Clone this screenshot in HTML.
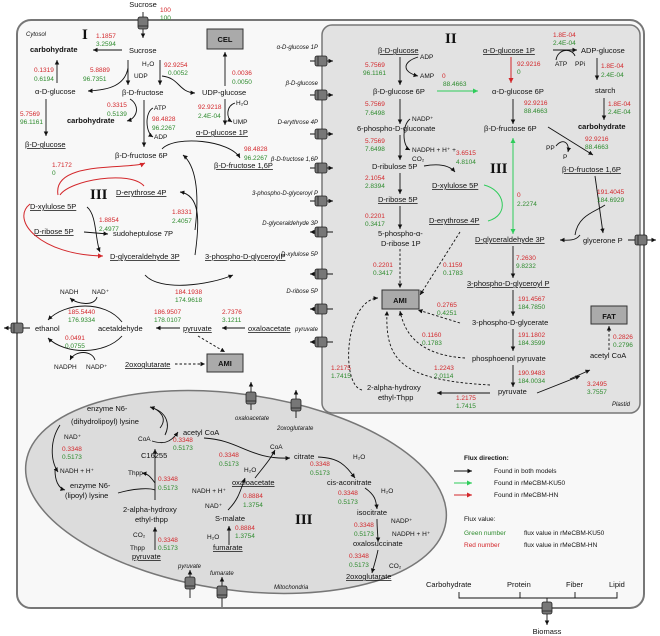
<!DOCTYPE html>
<html><head><meta charset="utf-8"><style>
html,body{margin:0;padding:0;background:#fff}
svg{display:block;font-family:"Liberation Sans",sans-serif}
.t{font-size:7.5px;fill:#111}
.s{font-size:6.5px;fill:#111}
.r{font-size:6.5px;fill:#d3272b}
.g{font-size:6.5px;fill:#2e8b2e}
.i{font-size:6px;font-style:italic;fill:#111}
.b{font-size:7.5px;font-weight:bold;fill:#111}
.R{font-family:"Liberation Serif",serif;font-weight:bold;font-size:15px;fill:#111}
.u{text-decoration:underline}
.k{stroke:#111;stroke-width:0.9;fill:none}
.d{stroke:#111;stroke-width:0.9;fill:none;stroke-dasharray:2.5,2}
.gr{stroke:#2ecc5a;stroke-width:1;fill:none}
.rd{stroke:#d3272b;stroke-width:1;fill:none}
</style></head><body>
<svg width="660" height="636" viewBox="0 0 660 636" xmlns="http://www.w3.org/2000/svg">
<defs>
<marker id="a" markerWidth="6" markerHeight="6" refX="5" refY="3" orient="auto"><path d="M0,0.5 L5,3 L0,5.5z" fill="#111"/></marker>
<marker id="ag" markerWidth="6" markerHeight="6" refX="5" refY="3" orient="auto"><path d="M0,0.5 L5,3 L0,5.5z" fill="#2ecc5a"/></marker>
<marker id="ar" markerWidth="6" markerHeight="6" refX="5" refY="3" orient="auto"><path d="M0,0.5 L5,3 L0,5.5z" fill="#d3272b"/></marker>
<g id="cy"><rect x="-5" y="-6" width="10" height="12" rx="2" fill="#777" stroke="#222" stroke-width="0.8"/><line x1="-5" y1="3" x2="5" y2="3" stroke="#222" stroke-width="0.8"/></g>
<g id="ch"><rect x="-6" y="-5" width="12" height="10" rx="2" fill="#777" stroke="#222" stroke-width="0.8"/><line x1="-3" y1="-5" x2="-3" y2="5" stroke="#222" stroke-width="0.8"/></g>
</defs>

<rect x="17" y="20" width="627" height="588" rx="14" fill="#f8f8f8" stroke="#777" stroke-width="2"/>
<rect x="322" y="25" width="318" height="388" rx="10" fill="#e2e2e2" stroke="#777" stroke-width="1.5"/>
<ellipse cx="236" cy="492" rx="212" ry="98" transform="rotate(8 236 492)" fill="#dcdcdc" stroke="#777" stroke-width="1.5"/>

<text x="143" y="7" class="t" text-anchor="middle">Sucrose</text>
<text x="160" y="12" class="r">100</text><text x="160" y="20" class="g">100</text>
<line x1="143" y1="12" x2="143" y2="38" class="k" marker-end="url(#a)"/>
<use href="#cy" x="143" y="23"/>

<text x="26" y="36" class="i">Cytosol</text>
<text x="82" y="39" class="R">I</text>
<text x="96" y="38" class="r">1.1857</text><text x="96" y="46" class="g">3.2594</text>
<text x="30" y="52" class="b">carbohydrate</text>
<line x1="122" y1="50" x2="93" y2="50" class="k" marker-end="url(#a)"/>
<text x="129" y="53" class="t">Sucrose</text>
<rect x="207" y="29" width="36" height="20" fill="#aaa" stroke="#333" stroke-width="1"/>
<text x="225" y="42" class="b" text-anchor="middle">CEL</text>
<text x="34" y="72" class="r">0.1319</text><text x="34" y="81" class="g">0.6194</text>
<line x1="57" y1="83" x2="57" y2="60" class="k" marker-end="url(#a)"/>
<text x="90" y="72" class="r">5.8889</text><text x="83" y="81" class="g">96.7351</text>
<text x="142" y="66" class="s">H₂O</text><text x="134" y="78" class="s">UDP</text>
<text x="164" y="67" class="r">92.9254</text><text x="168" y="75" class="g">0.0052</text>
<line x1="128" y1="60" x2="128" y2="85" class="k" marker-end="url(#a)"/>
<line x1="160" y1="60" x2="160" y2="85" class="k" marker-end="url(#a)"/>
<path d="M128,68 C125,85 110,90 88,91" class="k" marker-end="url(#a)"/>
<path d="M162,76 C180,78 178,92 195,93" class="k" marker-end="url(#a)"/>
<text x="35" y="94" class="t">α-D-glucose</text>
<text x="122" y="95" class="t">β-D-fructose</text>
<text x="202" y="95" class="t">UDP-glucose</text>
<text x="232" y="75" class="r">0.0036</text><text x="232" y="84" class="g">0.0050</text>
<line x1="225" y1="86" x2="225" y2="52" class="k" marker-end="url(#a)"/>
<text x="107" y="107" class="r">0.3315</text><text x="107" y="116" class="g">0.5139</text>
<path d="M130,99 C140,105 138,118 127,121" class="k" marker-end="url(#a)"/>
<text x="67" y="123" class="b">carbohydrate</text>
<text x="154" y="110" class="s">ATP</text><text x="152" y="121" class="r">98.4828</text><text x="152" y="130" class="g">96.2267</text><text x="154" y="139" class="s">ADP</text>
<line x1="144" y1="100" x2="144" y2="147" class="k" marker-end="url(#a)"/>
<path d="M153,108 C145,112 145,132 153,137" class="k" marker-end="url(#a)"/>
<text x="198" y="109" class="r">92.9218</text><text x="198" y="118" class="g">2.4E-04</text>
<text x="236" y="105" class="s">H₂O</text><text x="233" y="124" class="s">UMP</text>
<line x1="225" y1="99" x2="225" y2="125" class="k" marker-end="url(#a)"/>
<path d="M235,103 C226,106 226,118 232,122" class="k" marker-end="url(#a)"/>
<text x="196" y="135" class="t u">α-D-glucose 1P</text>
<text x="20" y="116" class="r">5.7569</text><text x="20" y="124" class="g">96.1161</text>
<line x1="46" y1="99" x2="46" y2="136" class="k" marker-end="url(#a)"/>
<text x="25" y="147" class="t u">β-D-glucose</text>
<text x="115" y="158" class="t">β-D-fructose 6P</text>
<path d="M162,149 C175,135 230,140 240,158" class="k" marker-end="url(#a)"/>
<text x="244" y="151" class="r">98.4828</text><text x="244" y="160" class="g">96.2267</text>
<text x="214" y="168" class="t u">β-D-fructose 1,6P</text>
<text x="52" y="167" class="r">1.7172</text><text x="52" y="175" class="g">0</text>
<path d="M144,186 C130,170 70,180 60,195" class="rd"/>
<path d="M58,195 C52,160 130,170 145,163" class="rd" marker-end="url(#ar)"/>
<text x="90" y="199" class="R">III</text>
<text x="116" y="195" class="t u">D-erythrose 4P</text>
<path d="M195,255 C200,220 200,195 180,192" class="k" marker-end="url(#a)"/>
<path d="M195,230 C200,190 195,165 183,155" class="k" marker-end="url(#a)"/>
<text x="172" y="214" class="r">1.8331</text><text x="172" y="223" class="g">2.4057</text>
<text x="30" y="209" class="t u">D-xylulose 5P</text>
<path d="M87,207 C97,215 95,240 100,252" class="k" marker-end="url(#a)"/>
<text x="99" y="222" class="r">1.8854</text><text x="99" y="231" class="g">2.4977</text>
<text x="34" y="234" class="t u">D-ribose 5P</text>
<line x1="84" y1="232" x2="108" y2="234" class="k" marker-end="url(#a)"/>
<text x="113" y="236" class="t">sudoheptulose 7P</text>
<path d="M30,204 C10,220 40,255 103,256" class="rd" marker-end="url(#ar)"/>
<text x="110" y="259" class="t u">D-glyceraldehyde 3P</text>
<text x="205" y="259" class="t u">3-phospho-D-glyceroylP</text>
<path d="M145,275 C160,292 210,285 233,275" class="k" marker-end="url(#a)"/>
<text x="175" y="294" class="r">184.1938</text><text x="175" y="302" class="g">174.9618</text>
<text x="60" y="294" class="s">NADH</text><text x="92" y="294" class="s">NAD⁺</text>
<path d="M97,297 C95,306 78,305 70,298" class="k" marker-end="url(#a)"/>
<text x="68" y="314" class="r">185.5440</text><text x="68" y="322" class="g">176.9334</text>
<path d="M122,322 C105,300 65,302 48,320" class="k" marker-end="url(#a)"/>
<text x="35" y="331" class="t">ethanol</text>
<text x="98" y="331" class="t">acetaldehyde</text>
<line x1="180" y1="328" x2="156" y2="328" class="k" marker-end="url(#a)"/>
<text x="154" y="314" class="r">186.9507</text><text x="154" y="322" class="g">178.0107</text>
<text x="183" y="331" class="t u">pyruvate</text>
<line x1="245" y1="328" x2="222" y2="328" class="k" marker-end="url(#a)"/>
<text x="222" y="314" class="r">2.7376</text><text x="222" y="322" class="g">3.1211</text>
<text x="248" y="331" class="t u">oxaloacetate</text>
<text x="65" y="340" class="r">0.0491</text><text x="65" y="348" class="g">0.0755</text>
<path d="M122,336 C105,355 65,355 48,338" class="k" marker-end="url(#a)"/>
<path d="M95,360 C92,350 75,350 70,360" class="k" marker-end="url(#a)"/>
<text x="54" y="369" class="s">NADPH</text><text x="86" y="369" class="s">NADP⁺</text>
<text x="125" y="367" class="t u">2oxoglutarate</text>
<line x1="175" y1="364" x2="205" y2="364" class="d" marker-end="url(#a)"/>
<line x1="198" y1="336" x2="225" y2="352" class="d" marker-end="url(#a)"/>
<rect x="207" y="354" width="36" height="18" fill="#aaa" stroke="#333" stroke-width="1"/>
<text x="225" y="366" class="b" text-anchor="middle">AMI</text>
<line x1="30" y1="328" x2="4" y2="328" class="k" marker-end="url(#a)"/>
<use href="#ch" x="17" y="328"/>

<g class="i" text-anchor="end">
<text x="318" y="49">α-D-glucose 1P</text><text x="318" y="85">β-D-glucose</text>
<text x="318" y="124">D-erythrose 4P</text><text x="318" y="161">β-D-fructose 1,6P</text>
<text x="318" y="195">3-phospho-D-glyceroyl P</text><text x="318" y="225">D-glyceraldehyde 3P</text>
<text x="318" y="256">D-xylulose 5P</text><text x="318" y="293">D-ribose 5P</text>
<text x="318" y="331">pyruvate</text></g>
<g class="k">
<line x1="310" y1="61" x2="333" y2="61" marker-end="url(#a)"/><line x1="310" y1="95" x2="333" y2="95" marker-end="url(#a)"/>
<line x1="310" y1="134" x2="333" y2="134" marker-end="url(#a)"/><line x1="310" y1="168" x2="333" y2="168" marker-end="url(#a)"/>
<line x1="310" y1="201" x2="333" y2="201" marker-end="url(#a)"/><line x1="333" y1="232" x2="310" y2="232" marker-end="url(#a)"/>
<line x1="333" y1="274" x2="310" y2="274" marker-end="url(#a)"/><line x1="333" y1="309" x2="310" y2="309" marker-end="url(#a)"/>
<line x1="333" y1="342" x2="310" y2="342" marker-end="url(#a)"/></g>
<use href="#ch" x="321" y="61"/><use href="#ch" x="321" y="95"/><use href="#ch" x="321" y="134"/><use href="#ch" x="321" y="168"/><use href="#ch" x="321" y="201"/><use href="#ch" x="321" y="232"/><use href="#ch" x="321" y="274"/><use href="#ch" x="321" y="309"/><use href="#ch" x="321" y="342"/>

<text x="445" y="43" class="R">II</text>
<text x="378" y="53" class="t u">β-D-glucose</text>
<text x="420" y="59" class="s">ADP</text><text x="420" y="78" class="s">AMP</text>
<text x="365" y="67" class="r">5.7569</text><text x="363" y="75" class="g">96.1161</text>
<line x1="400" y1="57" x2="400" y2="85" class="k" marker-end="url(#a)"/>
<path d="M418,57 C402,62 402,72 418,76" class="k" marker-end="url(#a)"/>
<text x="442" y="78" class="r">0</text><text x="443" y="86" class="g">88.4663</text>
<line x1="437" y1="91" x2="478" y2="91" class="gr" marker-end="url(#ag)"/>
<text x="373" y="94" class="t">β-D-glucose 6P</text>
<text x="483" y="53" class="t u">α-D-glucose 1P</text>
<line x1="511" y1="57" x2="511" y2="83" class="rd" marker-end="url(#ar)"/>
<text x="517" y="66" class="r">92.9216</text><text x="517" y="74" class="g">0</text>
<text x="492" y="94" class="t">α-D-glucose 6P</text>
<text x="553" y="37" class="r">1.8E-04</text><text x="553" y="45" class="g">2.4E-04</text>
<line x1="553" y1="50" x2="577" y2="50" class="k" marker-end="url(#a)"/>
<path d="M556,60 C558,48 572,48 575,56" class="k"/>
<text x="581" y="53" class="t">ADP-glucose</text>
<text x="555" y="66" class="s">ATP</text><text x="575" y="66" class="s">PPi</text>
<line x1="597" y1="58" x2="597" y2="80" class="k" marker-end="url(#a)"/>
<text x="601" y="68" class="r">1.8E-04</text><text x="601" y="77" class="g">2.4E-04</text>
<text x="595" y="93" class="t">starch</text>
<line x1="604" y1="98" x2="604" y2="120" class="k" marker-end="url(#a)"/>
<text x="608" y="106" class="r">1.8E-04</text><text x="608" y="114" class="g">2.4E-04</text>
<text x="578" y="129" class="b">carbohydrate</text>
<text x="365" y="106" class="r">5.7569</text><text x="365" y="115" class="g">7.6498</text>
<line x1="400" y1="99" x2="400" y2="124" class="k" marker-end="url(#a)"/>
<text x="524" y="105" class="r">92.9216</text><text x="524" y="113" class="g">88.4663</text>
<line x1="513" y1="99" x2="513" y2="124" class="k" marker-end="url(#a)"/>
<text x="357" y="131" class="t">6-phospho-D-gluconate</text>
<text x="412" y="121" class="s">NADP⁺</text>
<text x="484" y="131" class="t">β-D-fructose 6P</text>
<line x1="548" y1="127" x2="593" y2="155" class="k" marker-end="url(#a)"/>
<text x="585" y="141" class="r">92.9216</text><text x="585" y="149" class="g">88.4663</text>
<text x="546" y="150" class="s">PP</text><text x="563" y="159" class="s">P</text>
<path d="M556,146 C562,138 570,142 568,152" class="k" marker-end="url(#a)"/>
<text x="365" y="143" class="r">5.7569</text><text x="365" y="151" class="g">7.6498</text>
<line x1="400" y1="135" x2="400" y2="160" class="k" marker-end="url(#a)"/>
<path d="M410,119 C402,125 402,146 410,150" class="k" marker-end="url(#a)"/>
<text x="412" y="152" class="s">NADPH + H⁺ +</text><text x="412" y="161" class="s">CO₂</text>
<text x="456" y="155" class="r">3.6515</text><text x="456" y="164" class="g">4.8104</text>
<text x="372" y="169" class="t">D-ribulose 5P</text>
<path d="M424,166 C440,163 450,166 455,172" class="k" marker-end="url(#a)"/>
<text x="490" y="173" class="R">III</text>
<text x="562" y="172" class="t u">β-D-fructose 1,6P</text>
<text x="365" y="180" class="r">2.1054</text><text x="365" y="188" class="g">2.8394</text>
<line x1="400" y1="173" x2="400" y2="194" class="k" marker-end="url(#a)"/>
<text x="432" y="188" class="t u">D-xylulose 5P</text>
<line x1="513" y1="232" x2="513" y2="138" class="gr" marker-end="url(#ag)"/>
<line x1="513" y1="200" x2="513" y2="234" class="gr" marker-end="url(#ag)"/>
<path d="M484,185 C505,190 510,215 488,221" class="gr"/>
<text x="517" y="197" class="r">0</text><text x="517" y="206" class="g">2.2274</text>
<text x="378" y="202" class="t u">D-ribose 5P</text>
<line x1="595" y1="176" x2="603" y2="233" class="k" marker-end="url(#a)"/>
<text x="597" y="194" class="r">191.4045</text><text x="597" y="202" class="g">184.6929</text>
<path d="M575,235 C578,215 595,212 605,205" class="k"/>
<text x="365" y="218" class="r">0.2201</text><text x="365" y="226" class="g">0.3417</text>
<line x1="400" y1="206" x2="400" y2="229" class="k" marker-end="url(#a)"/>
<text x="429" y="223" class="t u">D-erythrose 4P</text>
<text x="378" y="236" class="t">5-phospho-α-</text><text x="381" y="246" class="t">D-ribose 1P</text>
<text x="475" y="242" class="t u">D-glyceraldehyde 3P</text>
<path d="M580,235 C575,242 565,240 560,240" class="k" marker-end="url(#a)"/>
<text x="583" y="243" class="t">glycerone P</text>
<line x1="628" y1="240" x2="656" y2="240" class="k" marker-end="url(#a)"/>
<use href="#ch" x="641" y="240"/>
<line x1="400" y1="249" x2="400" y2="288" class="d" marker-end="url(#a)"/>
<line x1="460" y1="232" x2="420" y2="295" class="d" marker-end="url(#a)"/>
<text x="373" y="267" class="r">0.2201</text><text x="373" y="275" class="g">0.3417</text>
<text x="443" y="267" class="r">0.1159</text><text x="443" y="275" class="g">0.1783</text>
<line x1="513" y1="246" x2="513" y2="278" class="k" marker-end="url(#a)"/>
<text x="516" y="260" class="r">7.2630</text><text x="516" y="268" class="g">9.8232</text>
<text x="467" y="286" class="t u">3-phospho-D-glyceroyl P</text>
<rect x="382" y="290" width="37" height="19" fill="#aaa" stroke="#333" stroke-width="1"/>
<text x="400" y="303" class="b" text-anchor="middle">AMI</text>
<line x1="513" y1="290" x2="513" y2="316" class="k" marker-end="url(#a)"/>
<text x="518" y="301" class="r">191.4567</text><text x="518" y="309" class="g">184.7850</text>
<text x="437" y="307" class="r">0.2765</text><text x="437" y="315" class="g">0.4251</text>
<line x1="460" y1="323" x2="418" y2="310" class="d" marker-end="url(#a)"/>
<rect x="591" y="306" width="36" height="18" fill="#aaa" stroke="#333" stroke-width="1"/>
<text x="609" y="319" class="b" text-anchor="middle">FAT</text>
<text x="472" y="325" class="t">3-phospho-D-glycerate</text>
<line x1="513" y1="329" x2="513" y2="351" class="k" marker-end="url(#a)"/>
<text x="518" y="337" class="r">191.1802</text><text x="518" y="345" class="g">184.3599</text>
<text x="422" y="337" class="r">0.1160</text><text x="422" y="345" class="g">0.1783</text>
<path d="M465,358 C420,355 405,335 400,311" class="d" marker-end="url(#a)"/>
<line x1="609" y1="350" x2="609" y2="326" class="d" marker-end="url(#a)"/>
<text x="613" y="339" class="r">0.2826</text><text x="613" y="347" class="g">0.2796</text>
<text x="472" y="361" class="t">phosphoenol pyruvate</text>
<text x="590" y="358" class="t">acetyl CoA</text>
<text x="331" y="370" class="r">1.2175</text><text x="331" y="378" class="g">1.7415</text>
<text x="434" y="370" class="r">1.2243</text><text x="434" y="378" class="g">2.0114</text>
<path d="M490,385 C400,380 385,360 387,311" class="d" marker-end="url(#a)"/>
<path d="M362,390 C340,385 345,300 378,298" class="d" marker-end="url(#a)"/>
<line x1="513" y1="365" x2="513" y2="387" class="k" marker-end="url(#a)"/>
<text x="518" y="375" class="r">190.9483</text><text x="518" y="383" class="g">184.0034</text>
<line x1="537" y1="393" x2="580" y2="376" class="k" marker-end="url(#a)"/>
<line x1="570" y1="379" x2="590" y2="370" class="k" marker-end="url(#a)"/>
<text x="587" y="386" class="r">3.2495</text><text x="587" y="394" class="g">3.7557</text>
<text x="367" y="390" class="t">2-alpha-hydroxy</text><text x="378" y="400" class="t">ethyl-Thpp</text>
<text x="498" y="394" class="t">pyruvate</text>
<line x1="490" y1="393" x2="437" y2="393" class="k" marker-end="url(#a)"/>
<text x="456" y="400" class="r">1.2175</text><text x="456" y="408" class="g">1.7415</text>
<text x="612" y="406" class="i">Plastid</text>

<line x1="251" y1="410" x2="251" y2="382" class="k" marker-end="url(#a)"/>
<use href="#cy" x="251" y="398"/>
<line x1="296" y1="418" x2="296" y2="390" class="k" marker-end="url(#a)"/>
<use href="#cy" x="296" y="405"/>
<text x="235" y="420" class="i">oxaloacetate</text><text x="277" y="430" class="i">2oxoglutarate</text>
<text x="87" y="411" class="t">enzyme N6-</text><text x="71" y="424" class="t">(dihydrolipoyl) lysine</text>
<path d="M150,407 C168,412 170,425 165,435" class="k"/>
<path d="M160,428 C168,418 160,410 150,407" class="k" marker-end="url(#a)"/>
<text x="183" y="435" class="t">acetyl CoA</text>
<text x="138" y="441" class="s">CoA</text>
<path d="M152,441 C162,444 170,444 178,432" class="k" marker-end="url(#a)"/>
<text x="173" y="442" class="r">0.3348</text><text x="173" y="450" class="g">0.5173</text>
<text x="64" y="439" class="s">NAD⁺</text>
<text x="62" y="451" class="r">0.3348</text><text x="62" y="459" class="g">0.5173</text>
<path d="M60,425 C50,440 50,460 58,472" class="k" marker-end="url(#a)"/>
<path d="M55,470 C55,480 58,488 65,490" class="k" marker-end="url(#a)"/>
<text x="141" y="458" class="t">C16255</text>
<path d="M204,438 C240,440 250,460 290,458" class="k" marker-end="url(#a)"/>
<text x="219" y="457" class="r">0.3348</text><text x="219" y="466" class="g">0.5173</text>
<text x="270" y="449" class="s">CoA</text>
<path d="M255,478 C265,465 270,460 275,450" class="k" marker-end="url(#a)"/>
<text x="294" y="459" class="t">citrate</text>
<text x="353" y="459" class="s">H₂O</text>
<path d="M318,457 C340,458 345,465 355,478" class="k" marker-end="url(#a)"/>
<text x="310" y="466" class="r">0.3348</text><text x="310" y="475" class="g">0.5173</text>
<text x="244" y="472" class="s">H₂O</text>
<text x="60" y="473" class="s">NADH + H⁺</text>
<text x="128" y="475" class="s">Thpp</text>
<line x1="155" y1="500" x2="155" y2="449" class="k" marker-end="url(#a)"/>
<path d="M155,483 C150,476 148,474 142,473" class="k" marker-end="url(#a)"/>
<text x="158" y="481" class="r">0.3348</text><text x="158" y="490" class="g">0.5173</text>
<text x="232" y="485" class="t u">oxaloacetate</text>
<text x="327" y="485" class="t">cis-aconitrate</text>
<text x="70" y="488" class="t">enzyme N6-</text><text x="65" y="498" class="t">(lipoyl) lysine</text>
<path d="M118,493 C135,488 150,488 155,490" class="k"/>
<text x="192" y="493" class="s">NADH + H⁺</text>
<path d="M228,510 C238,500 240,492 245,478" class="k" marker-end="url(#a)"/>
<text x="243" y="498" class="r">0.8884</text><text x="243" y="507" class="g">1.3754</text>
<text x="338" y="495" class="r">0.3348</text><text x="338" y="504" class="g">0.5173</text>
<text x="381" y="493" class="s">H₂O</text>
<path d="M365,488 C375,495 376,500 377,509" class="k" marker-end="url(#a)"/>
<text x="205" y="508" class="s">NAD⁺</text>
<text x="123" y="512" class="t">2-alpha-hydroxy</text><text x="135" y="522" class="t">ethyl-thpp</text>
<text x="215" y="521" class="t">S-malate</text>
<text x="295" y="524" class="R">III</text>
<text x="357" y="515" class="t">isocitrate</text>
<text x="391" y="523" class="s">NADP⁺</text>
<path d="M377,519 C377,530 378,535 378,542" class="k" marker-end="url(#a)"/>
<text x="354" y="527" class="r">0.3348</text><text x="354" y="536" class="g">0.5173</text>
<line x1="229" y1="545" x2="229" y2="526" class="k" marker-end="url(#a)"/>
<text x="235" y="530" class="r">0.8884</text><text x="235" y="538" class="g">1.3754</text>
<text x="133" y="537" class="s">CO₂</text>
<line x1="155" y1="550" x2="155" y2="527" class="k" marker-end="url(#a)"/>
<text x="158" y="542" class="r">0.3348</text><text x="158" y="550" class="g">0.5173</text>
<text x="207" y="539" class="s">H₂O</text>
<text x="392" y="536" class="s">NADPH + H⁺</text>
<text x="353" y="546" class="t">oxalosuccinate</text>
<text x="130" y="550" class="s">Thpp</text>
<text x="132" y="559" class="t u">pyruvate</text>
<text x="213" y="550" class="t u">fumarate</text>
<path d="M378,550 C376,560 374,565 372,573" class="k" marker-end="url(#a)"/>
<text x="349" y="558" class="r">0.3348</text><text x="349" y="567" class="g">0.5173</text>
<text x="389" y="568" class="s">CO₂</text>
<text x="346" y="579" class="t u">2oxoglutarate</text>
<text x="178" y="568" class="i">pyruvate</text><text x="210" y="575" class="i">fumarate</text>
<line x1="190" y1="598" x2="190" y2="570" class="k" marker-end="url(#a)"/>
<use href="#cy" x="190" y="583"/>
<line x1="222" y1="607" x2="222" y2="577" class="k" marker-end="url(#a)"/>
<use href="#cy" x="222" y="592"/>
<text x="274" y="589" class="i">Mitochondria</text>

<text x="464" y="460" class="s" font-weight="bold">Flux direction:</text>
<line x1="454" y1="471" x2="472" y2="471" class="k" marker-end="url(#a)"/>
<line x1="454" y1="483" x2="472" y2="483" class="gr" marker-end="url(#ag)"/>
<line x1="454" y1="495" x2="472" y2="495" class="rd" marker-end="url(#ar)"/>
<text x="494" y="473" class="s">Found in both models</text>
<text x="494" y="485" class="s">Found in rMeCBM-KU50</text>
<text x="494" y="497" class="s">Found in rMeCBM-HN</text>
<text x="464" y="521" class="s">Flux value:</text>
<text x="464" y="535" class="g">Green number</text><text x="524" y="535" class="s">flux value in rMeCBM-KU50</text>
<text x="464" y="547" class="r">Red number</text><text x="524" y="547" class="s">flux value in rMeCBM-HN</text>
<text x="426" y="587" class="t">Carbohydrate</text><text x="507" y="587" class="t">Protein</text>
<text x="566" y="587" class="t">Fiber</text><text x="609" y="587" class="t">Lipid</text>
<path d="M459,592 V598 H617 V592 M520,592 V598 M575,592 V598" class="k"/>
<line x1="547" y1="598" x2="547" y2="625" class="k" marker-end="url(#a)"/>
<use href="#cy" x="547" y="608"/>
<text x="547" y="634" class="t" text-anchor="middle">Biomass</text>
</svg>
</body></html>
